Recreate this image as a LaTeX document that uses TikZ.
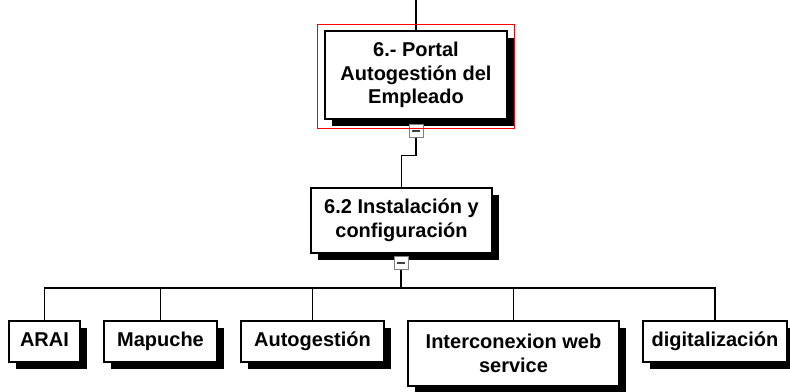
\documentclass[tikz,border=0pt]{standalone}
\usepackage{fontspec}
\setmainfont{Liberation Sans}
\usetikzlibrary{shadows}

\begin{document}
\begin{tikzpicture}[x=1pt,y=-1pt,
    onerow/.style={text height=14.5pt,text depth=4pt}]
      \useasboundingbox (0,0) rectangle (790,391);

      \coordinate (top) at (416,0);
      \coordinate (bar) at (401,288);

      \begin{scope}[every node/.style={rectangle,draw,line width=1.6pt,fill=white,
          align=center,inner sep=0pt,font=\fontsize{20}{23.5}\selectfont\bfseries,
          general shadow={fill=black,shadow xshift=7pt,shadow yshift=-7pt}}]
        \node[minimum width=182pt,minimum height=88pt] (1) at (416,75) {6.- Portal\\Autogestión del\\Empleado};
        \node[minimum width=181pt,minimum height=65pt] (2) at (401.5,220.5) {6.2 Instalación y\\configuración};
        \node[onerow,minimum width=71pt,minimum height=41pt]  (3) at (44.5,341.5) {ARAI};
        \node[onerow,minimum width=113pt,minimum height=41pt] (4) at (160.5,341.5) {Mapuche};
        \node[onerow,minimum width=143pt,minimum height=41pt] (5) at (312.5,341.5) {Autogestión};
        \node[minimum width=211pt,minimum height=65pt] (6) at (513.5,353.5) {Interconexion web\\service};
        \node[onerow,minimum width=144pt,minimum height=41pt] (7) at (715,341.5) {digitalización};
      \end{scope}

      \begin{scope}[every node/.style={draw=gray,fill=white,line width=1pt,
          minimum width=14pt,minimum height=13pt,inner sep=0pt}]
        \node (c1) at (416,130.5) {\color{black!75}\rule{8pt}{2pt}};
        \node (c2) at (401,263)   {\color{black!75}\rule{8pt}{2pt}};
      \end{scope}

      \begin{scope}[line width=1.3pt]
        \draw (top) -- (1);
        \draw (c1) -- ++(0,25) -| (2);
        \draw (c2) -- (bar);
        \draw (bar) -| (3);
        \draw (bar) -| (4);
        \draw (bar) -| (5);
        \draw (bar) -| (6);
        \draw (bar) -| (7);
      \end{scope}

      \draw[red,line width=1pt] (317,24) rectangle (514,128);

    \end{tikzpicture}
\end{document}
